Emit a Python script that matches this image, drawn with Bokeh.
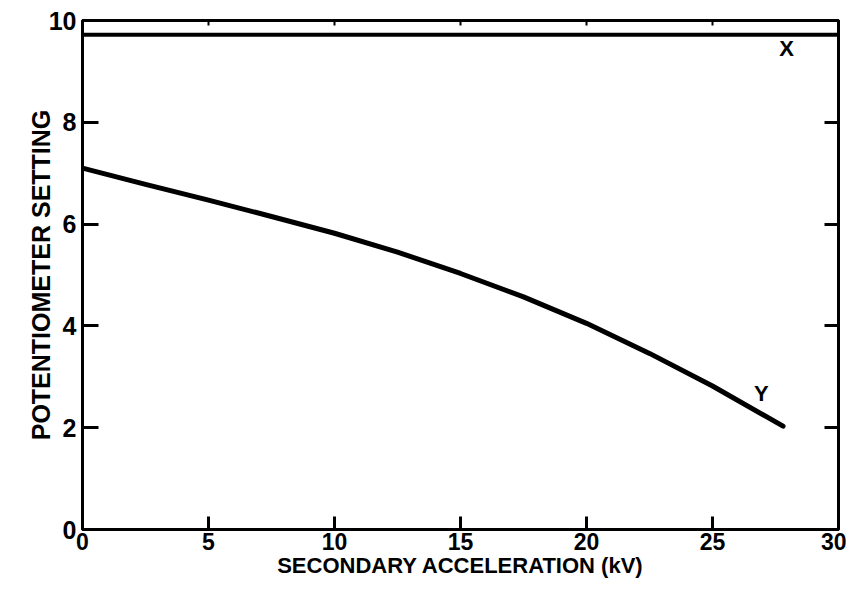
from bokeh.plotting import figure
from bokeh.models import LinearAxis, FixedTicker, ColumnDataSource
from bokeh.core.properties import value
from bokeh.embed import file_html
from bokeh.resources import INLINE

# Data
kv_y = [0, 2.5, 5, 7.5, 10, 12.5, 15, 17.5, 20, 22.5, 25, 27.8]
pot_y = [7.1, 6.78, 6.47, 6.15, 5.82, 5.45, 5.03, 4.57, 4.05, 3.46, 2.82, 2.03]
kv_x = [0, 30]
pot_x = [9.72, 9.72]
x_ticks = [0, 5, 10, 15, 20, 25, 30]
y_ticks = [0, 2, 4, 6, 8, 10]
right_ticks = [2, 4, 6, 8]
top_ticks = [5, 10, 15, 20, 25]
curve_labels = ["X", "Y"]
label_kv = [27.94, 26.94]
label_pot = [9.45, 2.67]

FONT = "Liberation Sans"

p = figure(width=846, height=580, x_range=(0, 30), y_range=(0, 10),
           output_backend="svg", toolbar_location=None,
           x_axis_location=None, y_axis_location=None,
           min_border_left=82, min_border_right=8, min_border_top=20,
           min_border_bottom=51)
p.xgrid.visible = False
p.ygrid.visible = False
p.outline_line_color = "black"
p.outline_line_width = 3
p.background_fill_color = "white"
p.border_fill_color = "white"

left = LinearAxis(ticker=FixedTicker(ticks=y_ticks), axis_label="POTENTIOMETER SETTING")
left.major_tick_in = 16
left.major_tick_out = 0
left.minor_tick_in = 0
left.minor_tick_out = 0
left.major_tick_line_width = 3
left.axis_line_width = 3
left.major_label_text_font = FONT
left.major_label_text_font_style = "bold"
left.major_label_text_font_size = "25px"
left.major_label_text_color = "black"
left.major_label_standoff = 6
left.axis_label_text_font = FONT
left.axis_label_text_font_style = "bold"
left.axis_label_text_font_size = "25px"
left.axis_label_text_color = "black"
left.axis_label_standoff = -9
p.add_layout(left, "left")

bottom = LinearAxis(ticker=FixedTicker(ticks=x_ticks), axis_label="SECONDARY ACCELERATION (kV)")
bottom.major_tick_in = 13
bottom.major_tick_out = 0
bottom.minor_tick_in = 0
bottom.minor_tick_out = 0
bottom.major_tick_line_width = 3
bottom.axis_line_width = 3
bottom.major_label_text_font = FONT
bottom.major_label_text_font_style = "bold"
bottom.major_label_text_font_size = "23px"
bottom.major_label_text_color = "black"
bottom.major_label_standoff = 3
bottom.axis_label_text_font = FONT
bottom.axis_label_text_font_style = "bold"
bottom.axis_label_text_font_size = "22px"
bottom.axis_label_text_color = "black"
bottom.axis_label_standoff = 0
p.add_layout(bottom, "below")

right = LinearAxis(ticker=FixedTicker(ticks=right_ticks))
right.major_tick_in = 14
right.major_tick_out = 0
right.minor_tick_in = 0
right.minor_tick_out = 0
right.major_tick_line_width = 3
right.axis_line_width = 3
right.major_label_overrides = {t: "" for t in right_ticks}
right.major_label_standoff = 0
p.add_layout(right, "right")

top = LinearAxis(ticker=FixedTicker(ticks=top_ticks))
top.major_tick_in = 5
top.major_tick_out = 0
top.minor_tick_in = 0
top.minor_tick_out = 0
top.major_tick_line_width = 2
top.axis_line_width = 3
top.major_label_overrides = {t: "" for t in top_ticks}
top.major_label_standoff = 0
p.add_layout(top, "above")

p.line(kv_x, pot_x, line_color="black", line_width=4)
p.line(kv_y, pot_y, line_color="black", line_width=5, line_cap="round",
       line_join="round")

src = ColumnDataSource(dict(x=label_kv, y=label_pot, t=curve_labels))
p.text(x="x", y="y", text="t", source=src, text_font=value(FONT),
       text_font_style="bold", text_font_size="22px", text_color="black",
       text_align="center", text_baseline="middle")

open("out.html", "w").write(file_html(p, INLINE))
